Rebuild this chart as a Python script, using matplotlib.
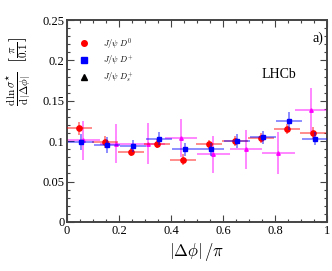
import numpy as np
import matplotlib
matplotlib.use('Agg')
import matplotlib.pyplot as plt
from matplotlib.lines import Line2D
from matplotlib.ticker import MultipleLocator

plt.rcParams['font.family'] = 'Liberation Serif'
plt.rcParams['mathtext.fontset'] = 'cm'

# J/psi D0 and J/psi D+ : 10 bins of 0.1
centres10 = np.arange(0.05, 1.0, 0.1)
d0_val = [0.116, 0.099, 0.087, 0.097, 0.077, 0.096, 0.100, 0.104, 0.115, 0.110]
d0_err = [0.008, 0.007, 0.005, 0.006, 0.007, 0.006, 0.006, 0.006, 0.006, 0.007]
dp_val = [0.099, 0.095, 0.094, 0.103, 0.090, 0.090, 0.100, 0.105, 0.125, 0.103]
dp_err = [0.010, 0.010, 0.007, 0.008, 0.008, 0.008, 0.009, 0.008, 0.011, 0.008]

# J/psi Ds+ : 8 bins of 0.125
centres8 = np.arange(0.0625, 1.0, 0.125)
ds_val = [0.101, 0.097, 0.097, 0.104, 0.084, 0.090, 0.085, 0.139]
ds_err = [0.024, 0.024, 0.025, 0.023, 0.023, 0.024, 0.026, 0.027]

fig = plt.figure(figsize=(3.32, 2.71), dpi=100)
ax = fig.add_axes([0.202, 0.181, 0.783, 0.745])

ax.errorbar(centres8, ds_val, xerr=0.0625, yerr=ds_err, fmt='^', color='#ff00ff',
            ms=2.5, elinewidth=1.2, ecolor=(1, 0, 1, 0.55), capsize=0, zorder=2)
ax.errorbar(centres10 - 0.003, d0_val, xerr=0.05, yerr=d0_err, fmt='o', color='#ff0000',
            ms=3.8, elinewidth=1.4, ecolor=(1, 0, 0, 0.45), capsize=0, zorder=3)
ax.errorbar(centres10 + 0.003, dp_val, xerr=0.05, yerr=dp_err, fmt='s', color='#0000ff',
            ms=3.5, elinewidth=1.4, ecolor=(0, 0, 1, 0.45), capsize=0, zorder=4)

ax.set_xlim(0, 1)
ax.set_ylim(0, 0.25)
ax.xaxis.set_minor_locator(MultipleLocator(0.05))
ax.yaxis.set_minor_locator(MultipleLocator(0.01))
ax.set_xticks([0, 0.2, 0.4, 0.6, 0.8, 1])
ax.set_xticklabels(['0', '0.2', '0.4', '0.6', '0.8', '1'])
ax.set_yticks([0, 0.05, 0.1, 0.15, 0.2, 0.25])
ax.set_yticklabels(['0', '0.05', '0.1', '0.15', '0.2', '0.25'])
ax.tick_params(which='both', direction='in', top=True, right=True, color='#444444',
               labelsize=9, pad=2)
ax.tick_params(which='major', length=5, width=0.8)
ax.tick_params(which='minor', length=2.5, width=0.8)
for s in ax.spines.values():
    s.set_color('#444444')
    s.set_linewidth(1.4)

ax.set_xlabel(r'$\left|\Delta\phi\right|\,/\pi$', fontsize=12, labelpad=3)
ax.set_ylabel(r'$\frac{\mathrm{d}\,\ln\sigma^{\star}}{\mathrm{d}\,\left|\Delta\phi\right|}\ \ \left[\frac{\pi}{0.1}\right]$',
              fontsize=11.5)
ax.yaxis.set_label_coords(-0.13, 0.745)

ax.text(0.985, 0.91, 'a)', transform=ax.transAxes, ha='right', va='center', fontsize=10)
ax.text(0.88, 0.73, 'LHCb', transform=ax.transAxes, ha='right', va='center', fontsize=10)

handles = [
    Line2D([], [], ls='none', marker='o', color='#ff0000', ms=4),
    Line2D([], [], ls='none', marker='s', color='#0000ff', ms=4),
    Line2D([], [], ls='none', marker='^', color='black', ms=4),
]
labels = [r'$J/\psi\ D^{0}$', r'$J/\psi\ D^{+}$', r'$J/\psi\ D^{+}_{s}$']
ax.legend(handles, labels, loc='upper left', bbox_to_anchor=(0.01, 0.95), frameon=False,
          fontsize=6, handletextpad=1.3, labelspacing=0.35, borderaxespad=0.3)

fig.savefig('out.png', dpi=100)
